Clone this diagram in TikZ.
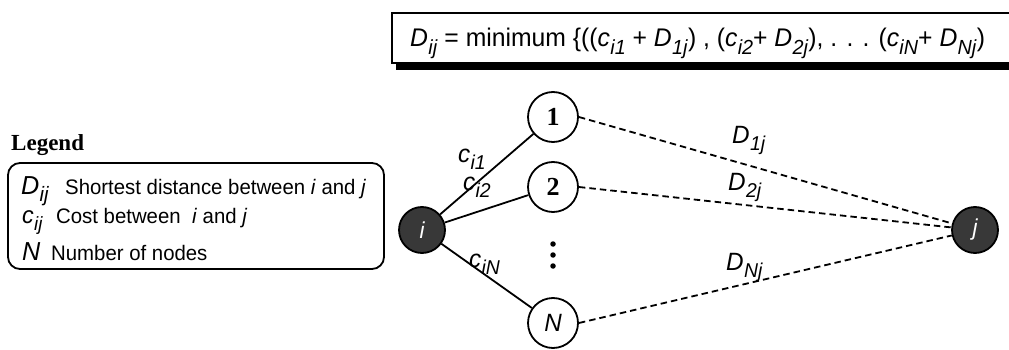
\documentclass[tikz,border=0pt]{standalone}
\usepackage{fontspec}
\setmainfont{Liberation Sans}[FakeStretch=0.97]
\newfontfamily\titlefont{Liberation Serif}
\newcommand{\V}[2]{\textit{#1}\kern0.3pt\raisebox{-0.3em}{\scalebox{0.8}{\textit{#2}}}}
\tikzset{
  darknode/.style={circle, draw=black, line width=1.8pt, fill=black!78, text=white,
    minimum size=46pt, inner sep=0pt, font=\fontsize{23}{25}\selectfont\itshape},
  numnode/.style={circle, draw=black, line width=1.8pt, fill=white,
    minimum size=50pt, inner sep=0pt, font=\fontsize{26}{28}\selectfont\titlefont\bfseries},
  solidedge/.style={line width=1.8pt},
  dashedge/.style={line width=1.8pt, dash pattern=on 6.5pt off 4pt},
  lbl/.style={anchor=base west, inner sep=0pt, font=\fontsize{25}{27}\selectfont},
  legtext/.style={anchor=base west, inner sep=0pt, font=\fontsize{21}{23}\selectfont},
  dot/.style={circle, fill=black, inner sep=0pt, minimum size=5.5pt}
}
\begin{document}
\begin{tikzpicture}[x=1pt,y=-1pt]
\useasboundingbox (0,0) rectangle (1009,350);
% formula box
\fill[black] (396,20) rectangle (1015,70);
\draw[line width=2pt, fill=white] (392,13) rectangle (1014,63);
\node[lbl, font=\fontsize{25.5}{27}\selectfont] (formula) at (410,47)
  {\V{D}{ij} = minimum \{((\V{c}{i1} + \V{D}{1j}) , (\V{c}{i2}+ \V{D}{2j}), . . . (\V{c}{iN}+ \V{D}{Nj})};
% legend
\node[anchor=base west, inner sep=0pt, font=\fontsize{23}{25}\selectfont\titlefont\bfseries] (legtitle) at (11,150) {Legend};
\draw[line width=1.8pt, rounded corners=12pt] (8,163) rectangle (384,269);
\node[legtext] (leg1) at (21,194) {\makebox[44pt][l]{\fontsize{26}{28}\selectfont\V{D}{ij}}Shortest distance between \textit{i} and \textit{j}};
\node[legtext] (leg2) at (22,223) {\makebox[34pt][l]{\fontsize{24}{26}\selectfont\V{c}{ij}}Cost between \ \textit{i} and \textit{j}};
\node[legtext] (leg3) at (22,260) {\makebox[29pt][l]{\fontsize{26}{28}\selectfont\textit{N}}Number of nodes};
% nodes
\node[darknode] (i) at (422,230) {i};
\node[darknode] (j) at (975,230) {j};
\node[numnode] (n1) at (553,117) {1};
\node[numnode] (n2) at (553,187) {2};
\node[numnode, font=\fontsize{25}{27}\selectfont\itshape] (nN) at (553,323) {N};
\node[dot] (d1) at (553,244) {};
\node[dot] (d2) at (553,255) {};
\node[dot] (d3) at (553,266) {};
% edges
\draw[solidedge] (i) -- (n1);
\draw[solidedge] (i) -- (n2);
\draw[solidedge] (i) -- (nN);
\draw[dashedge] (n1.east) -- (j);
\draw[dashedge] (n2.east) -- (j);
\draw[dashedge] (nN.east) -- (j);
% labels
\node[lbl] (ci1) at (458,162) {\V{c}{i1}};
\node[lbl] (ci2) at (463,190) {\V{c}{i2}};
\node[lbl] (ciN) at (469,267) {\V{c}{iN}};
\node[lbl] (D1j) at (732,143) {\V{D}{1j}};
\node[lbl] (D2j) at (728,190) {\V{D}{2j}};
\node[lbl] (DNj) at (726,270) {\V{D}{Nj}};
\end{tikzpicture}
\end{document}
